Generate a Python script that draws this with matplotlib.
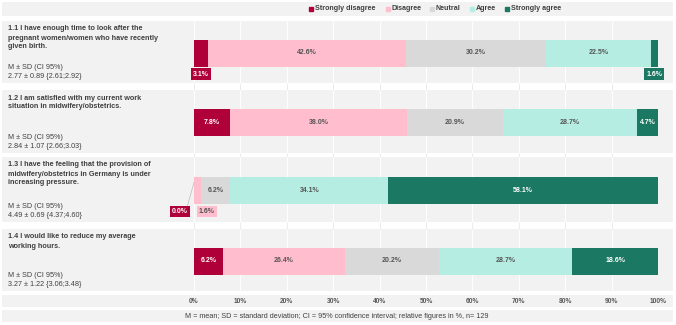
import numpy as np
import matplotlib
matplotlib.use('Agg')
import matplotlib.pyplot as plt
from matplotlib.patches import Rectangle
from matplotlib.transforms import blended_transform_factory

plt.rcParams['font.family'] = ['Liberation Sans', 'DejaVu Sans']

# data
categories = ['Strongly disagree', 'Disagree', 'Neutral', 'Agree', 'Strongly agree']
colors = ['#b0003a', '#ffbdce', '#d9d9d9', '#b5ede2', '#1b7863']
text_colors = ['white', '#555555', '#555555', '#555555', 'white']

questions = [
    '1.1 I have enough time to look after the\npregnant women/women who have recently\ngiven birth.',
    '1.2 I am satisfied with my current work\nsituation in midwifery/obstetrics.',
    '1.3 I have the feeling that the provision of\nmidwifery/obstetrics in Germany is under\nincreasing pressure.',
    '1.4 I would like to reduce my average\nworking hours.',
]
stats = [
    '2.77 ± 0.89 {2.61;2.92}',
    '2.84 ± 1.07 {2.66;3.03}',
    '4.49 ± 0.69 {4.37;4.60}',
    '3.27 ± 1.22 {3.06;3.48}',
]
q1 = [3.1, 42.6, 30.2, 22.5, 1.6]
q2 = [7.8, 38.0, 20.9, 28.7, 4.7]
q3 = [0.0, 1.6, 6.2, 34.1, 58.1]
q4 = [6.2, 26.4, 20.2, 28.7, 18.6]
values = [q1, q2, q3, q4]
ticks = list(range(0, 101, 10))
footer = 'M = mean; SD = standard deviation; CI = 95% confidence interval; relative figures in %, n= 129'

W, H = 676, 325
fig = plt.figure(figsize=(W / 100, H / 100), dpi=100)
ax = fig.add_axes([194 / W, 0, 464 / W, 1])
ax.set_xlim(0, 100)
ax.set_ylim(H, 0)
ax.axis('off')
fx = blended_transform_factory(fig.transFigure, ax.transData)

tc = '#404040'
bg = '#f2f2f2'


def band(y0, y1):
    ax.add_patch(Rectangle((2 / W, y0), 671 / W, y1 - y0, transform=fx,
                           fc=bg, ec='none', zorder=1, clip_on=False))


# panels (top, bottom) in pixel rows
panels = [(21, 83), (90, 153), (157, 222), (229, 291)]
band(2, 16)
band(295, 307)
band(310, 322)
ax.vlines(ticks, 21, 291, color='#e8e8e8', lw=0.6, zorder=0)
for y0, y1 in panels:
    band(y0, y1)
    ax.vlines(ticks, y0, y1, color='white', lw=0.7, zorder=2)

# legend
leg_x = [311, 388, 432, 472, 507]
for cat, col, lx in zip(categories, colors, leg_x):
    ax.plot([lx / W], [9], marker='s', ms=3, color=col, transform=fx, clip_on=False, zorder=5)
    ax.text((lx + 4) / W, 9, cat, transform=fx, fontsize=5.1, fontweight='bold',
            color=tc, va='center', ha='left', zorder=5)

# ticks
for t in ticks:
    ax.text(t, 301.5, f'{t}%', ha='center', va='center', fontsize=4.8,
            fontweight='bold', color='#595959', zorder=5)

ax.text(337 / W, 316, footer, transform=fx, ha='center', va='center',
        fontsize=5.2, color=tc, zorder=5)

# small-value label offsets (px) for crowded cases
small_off = {(2, 0): -14, (2, 1): 9}

for i, (vals, (y0, y1)) in enumerate(zip(values, panels)):
    yc = (y0 + y1) / 2 + 1
    vals = np.array(vals)
    left = np.concatenate([[0], np.cumsum(vals)[:-1]])
    ax.barh(yc, vals, left=left, height=27, color=colors, zorder=3)

    ax.text(8 / W, y0 + 4.5, questions[i], transform=fx, ha='left', va='top',
            fontsize=5.2, fontweight='bold', color=tc, linespacing=1.4, zorder=5)
    ax.text(8 / W, y1 - 3, 'M ± SD (CI 95%)\n' + stats[i], transform=fx, ha='left',
            va='bottom', fontsize=5.2, color=tc, linespacing=1.4, zorder=5)

    for j, (v, l) in enumerate(zip(vals, left)):
        xc = l + v / 2
        if v >= 4:
            ax.text(xc, yc, f'{v:.1f}%', ha='center', va='center', fontsize=5,
                    fontweight='bold', color=text_colors[j], zorder=5)
        else:
            off = small_off.get((i, j), 0) / 4.64
            ly = yc + 21
            ax.text(xc + off, ly, f'{v:.1f}%', ha='center', va='center', fontsize=5,
                    fontweight='bold', color=text_colors[j], zorder=6,
                    bbox=dict(boxstyle='square,pad=0.3', fc=colors[j], ec='none'))
            if off < -1:
                ax.plot([l, xc + off + 1.5], [yc - 8, ly - 4], color='#bbbbbb',
                        lw=0.5, zorder=4, clip_on=False)

fig.savefig('out.png', dpi=100)
